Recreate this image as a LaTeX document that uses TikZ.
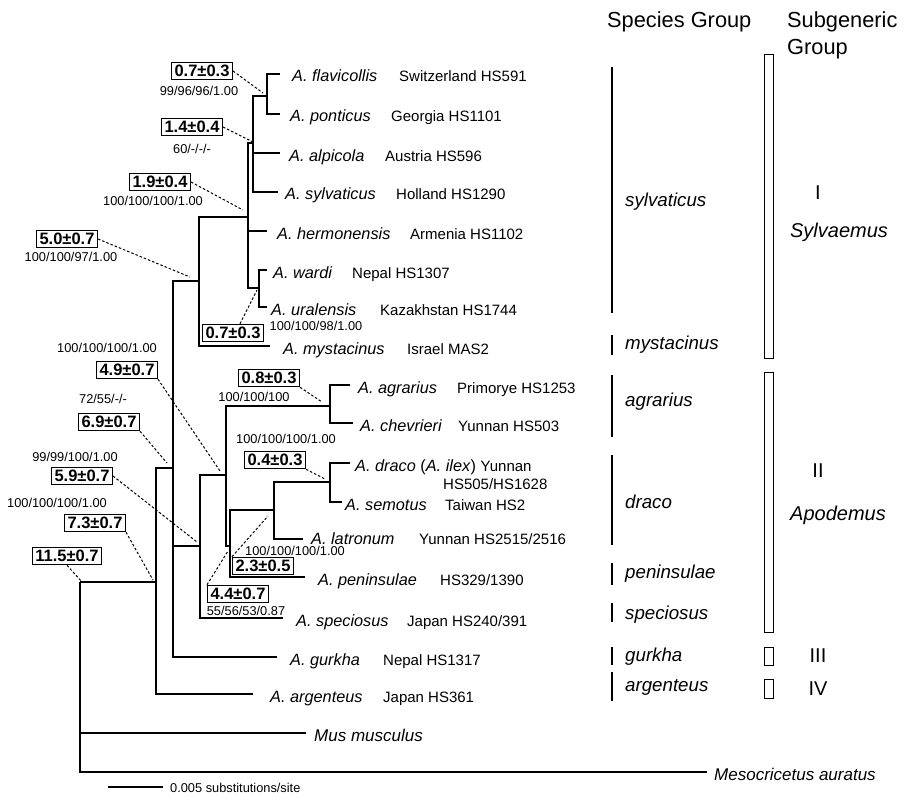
\documentclass[tikz,border=0pt]{standalone}
\usepackage{fontspec}
\setmainfont{Liberation Sans}
\begin{document}
\begin{tikzpicture}[x=1pt,y=-1pt,
  br/.style={line width=1.4pt, line join=miter},
  sp/.style={anchor=base west, inner sep=0pt, font=\fontsize{16.3}{18}\selectfont\itshape},
  loc/.style={anchor=base west, inner sep=0pt, font=\fontsize{15}{17}\selectfont},
  sup/.style={inner sep=0pt, font=\fontsize{12.8}{14}\selectfont},
  val/.style={draw, line width=1.1pt, inner xsep=3pt, inner ysep=2.8pt, text height=11.8pt, text depth=0pt, font=\fontsize{16.5}{18}\selectfont\bfseries},
  lead/.style={line width=1pt, dash pattern=on 2.5pt off 2pt},
  grp/.style={anchor=base west, inner sep=0pt, font=\fontsize{18.7}{20}\selectfont\itshape},
  gbar/.style={line width=2.2pt},
  sbox/.style={draw, line width=1pt},
  hdr/.style={anchor=base west, inner sep=0pt, font=\fontsize{21.8}{23}\selectfont},
  rom/.style={anchor=base, inner sep=0pt, font=\fontsize{20}{22}\selectfont},
  sub/.style={anchor=base, inner sep=0pt, font=\fontsize{20}{22}\selectfont\itshape}
]
\useasboundingbox[fill=white] (0,0) rectangle (905,797);

% internal nodes
\coordinate (R) at (80,582);
\coordinate (n73) at (156,582);
\coordinate (n69) at (173,468);
\coordinate (n50) at (199,281);
\coordinate (n19) at (248,217);
\coordinate (n14) at (253,143);
\coordinate (n07) at (267,96);
\coordinate (nwu) at (259,288);
\coordinate (n59) at (200,546);
\coordinate (n49) at (226,475);
\coordinate (n08) at (330,406);
\coordinate (n44) at (230,546);
\coordinate (n23) at (274,510);
\coordinate (n04) at (330,482);
% tips
\coordinate (tflav) at (280,74);
\coordinate (tpont) at (280,114);
\coordinate (talp) at (280,153);
\coordinate (tsylv) at (278,192);
\coordinate (therm) at (267,231);
\coordinate (tward) at (267,270);
\coordinate (tural) at (267,307);
\coordinate (tmyst) at (270,346);
\coordinate (tagr) at (350,385);
\coordinate (tchev) at (353,423);
\coordinate (tdraco) at (350,463);
\coordinate (tsem) at (342,502);
\coordinate (tlat) at (303,539);
\coordinate (tpen) at (305,577);
\coordinate (tspec) at (283,618);
\coordinate (tgur) at (277,657);
\coordinate (targ) at (253,694);
\coordinate (tmus) at (306,733);
\coordinate (tmeso) at (707,772);

% branches
\draw[br] (R) -- (n73);
\draw[br] (R) |- (tmus);
\draw[br] (R) |- (tmeso);
\draw[br] (n73) |- (n69);
\draw[br] (n73) |- (targ);
\draw[br] (n69) |- (n50);
\draw[br] (n69) |- (n59);
\draw[br] (n69) |- (tgur);
\draw[br] (n50) |- (n19);
\draw[br] (n50) |- (tmyst);
\draw[br] (n19) |- (n14);
\draw[br] (n19) |- (therm);
\draw[br] (n19) |- (nwu);
\draw[br] (n14) |- (n07);
\draw[br] (n14) |- (talp);
\draw[br] (n14) |- (tsylv);
\draw[br] (n07) |- (tflav);
\draw[br] (n07) |- (tpont);
\draw[br] (nwu) |- (tward);
\draw[br] (nwu) |- (tural);
\draw[br] (n59) |- (n49);
\draw[br] (n59) |- (tspec);
\draw[br] (n49) |- (n08);
\draw[br] (n49) |- (n44);
\draw[br] (n08) |- (tagr);
\draw[br] (n08) |- (tchev);
\draw[br] (n44) |- (n23);
\draw[br] (n44) |- (tpen);
\draw[br] (n23) |- (n04);
\draw[br] (n23) |- (tlat);
\draw[br] (n04) |- (tdraco);
\draw[br] (n04) |- (tsem);

% tip labels
\node[sp] (lflav) at (292,82) {A. flavicollis};
\node[loc] (cflav) at (399,82) {Switzerland HS591};
\node[sp] (lpont) at (290,122) {A. ponticus};
\node[loc] (cpont) at (391,122) {Georgia HS1101};
\node[sp] (lalp) at (289,161) {A. alpicola};
\node[loc] (calp) at (385,161) {Austria HS596};
\node[sp] (lsylv) at (285,200) {A. sylvaticus};
\node[loc] (csylv) at (396,200) {Holland HS1290};
\node[sp] (lherm) at (277,239) {A. hermonensis};
\node[loc] (cherm) at (410,239) {Armenia HS1102};
\node[sp] (lward) at (273,278) {A. wardi};
\node[loc] (cward) at (352,278) {Nepal HS1307};
\node[sp] (lural) at (271,315) {A. uralensis};
\node[loc] (cural) at (380,315) {Kazakhstan HS1744};
\node[sp] (lmyst) at (283,354) {A. mystacinus};
\node[loc] (cmyst) at (407,354) {Israel MAS2};
\node[sp] (lagr) at (358,393) {A. agrarius};
\node[loc] (cagr) at (457,393) {Primorye HS1253};
\node[sp] (lchev) at (360,431) {A. chevrieri};
\node[loc] (cchev) at (458,431) {Yunnan HS503};
\node[sp] (ldraco) at (355,471) {A. draco \upshape(\itshape A. ilex\/\upshape) \fontsize{15}{17}\selectfont Yunnan};
\node[loc] (cdraco) at (443,489) {HS505/HS1628};
\node[sp] (lsem) at (345,510) {A. semotus};
\node[loc] (csem) at (445,510) {Taiwan HS2};
\node[sp] (llat) at (311,544) {A. latronum};
\node[loc] (clat) at (419,544) {Yunnan HS2515/2516};
\node[sp] (lpen) at (318,585) {A. peninsulae};
\node[loc] (cpen) at (440,585) {HS329/1390};
\node[sp] (lspec) at (296,626) {A. speciosus};
\node[loc] (cspec) at (407,626) {Japan HS240/391};
\node[sp] (lgur) at (290,665) {A. gurkha};
\node[loc] (cgur) at (383,665) {Nepal HS1317};
\node[sp] (larg) at (270,702) {A. argenteus};
\node[loc] (carg) at (383,702) {Japan HS361};
\node[sp, font=\fontsize{17}{19}\selectfont\itshape] (lmus) at (314,741) {Mus musculus};
\node[sp, font=\fontsize{17}{19}\selectfont\itshape] (lmeso) at (714,780) {Mesocricetus auratus};

% node values and supports
\node[val] (b07a) at (202,71) {0.7±0.3};
\node[sup] (s07a) at (199,91) {99/96/96/1.00};
\coordinate (e07a) at (263,93);
\draw[lead] (b07a.east) -- (e07a);

\node[val] (b14) at (192,127) {1.4±0.4};
\node[sup] (s14) at (192,149) {60/-/-/-};
\coordinate (e14) at (253,142);
\draw[lead] (b14.east) -- (e14);

\node[val] (b19) at (160,182) {1.9±0.4};
\node[sup] (s19) at (153,201) {100/100/100/1.00};
\coordinate (e19) at (243,210);
\draw[lead] (b19.east) -- (e19);

\node[val] (b50) at (67,239) {5.0±0.7};
\node[sup] (s50) at (71,257) {100/100/97/1.00};
\coordinate (e50) at (190,277);
\draw[lead] (b50.east) -- (e50);

\node[val] (b07b) at (233,333) {0.7±0.3};
\node[sup] (s07b) at (316,326) {100/100/98/1.00};
\coordinate (e07b) at (257,290);
\draw[lead] ([xshift=7pt]b07b.north) -- (e07b);

\node[val] (b49) at (127,370) {4.9±0.7};
\node[sup] (s49) at (107,348) {100/100/100/1.00};
\coordinate (e49) at (220,471);
\draw[lead] (b49.south east) -- (e49);

\node[val] (b69) at (109,422) {6.9±0.7};
\node[sup] (s69) at (103,399) {72/55/-/-};
\coordinate (e69) at (167,463);
\draw[lead] (b69.south east) -- (e69);

\node[val] (b59) at (82,476) {5.9±0.7};
\node[sup] (s59) at (75,457) {99/99/100/1.00};
\coordinate (e59) at (197,542);
\draw[lead] (b59.east) -- (e59);

\node[val] (b73) at (95,523) {7.3±0.7};
\node[sup] (s73) at (57,503) {100/100/100/1.00};
\coordinate (e73) at (153,580);
\draw[lead] (b73.south east) -- (e73);

\node[val] (b115) at (67,556) {11.5±0.7};
\coordinate (e115) at (82,582);
\draw[lead] (b115.south) -- (e115);

\node[val] (b08) at (269,378) {0.8±0.3};
\node[sup] (s08) at (254,397) {100/100/100};
\coordinate (e08) at (322,402);
\draw[lead] (b08.south east) -- (e08);

\node[val] (b04) at (275,460) {0.4±0.3};
\node[sup] (s04) at (286,439) {100/100/100/1.00};
\coordinate (e04) at (325,479);
\draw[lead] (b04.south east) -- (e04);

\node[val] (b23) at (263,566) {2.3±0.5};
\node[sup] (s23) at (295,551) {100/100/100/1.00};
\coordinate (e23) at (268,516);
\draw[lead] (b23.north west) -- (e23);

\node[val] (b44) at (238,594) {4.4±0.7};
\node[sup] (s44) at (246,611) {55/56/53/0.87};
\coordinate (e44) at (228,551);
\draw[lead] (b44.north west) -- (e44);

% scale bar
\coordinate (sbl) at (108,787);
\coordinate (sbr) at (163,787);
\draw[br] (sbl) -- (sbr);
\node[sup, anchor=west] (sbt) at (170,788) {0.005 substitutions/site};

% headers
\node[hdr] (hsp) at (607,27.5) {Species Group};
\node[hdr] (hsg1) at (787,27.5) {Subgeneric};
\node[hdr] (hsg2) at (787,55) {Group};

% species group bars
\draw[gbar] (612,67) -- (612,313);
\draw[gbar] (612,335) -- (612,355);
\draw[gbar] (612,375) -- (612,437);
\draw[gbar] (612,455) -- (612,545);
\draw[gbar] (612,563) -- (612,585);
\draw[gbar] (612,603) -- (612,622);
\draw[gbar] (612,647) -- (612,665);
\draw[gbar] (612,672) -- (612,701);
\node[grp] (gsyl) at (625,206.5) {sylvaticus};
\node[grp] (gmys) at (625,349.5) {mystacinus};
\node[grp] (gagr) at (625,406.5) {agrarius};
\node[grp] (gdra) at (625,508.5) {draco};
\node[grp] (gpen) at (625,578.5) {peninsulae};
\node[grp] (gspe) at (625,619.5) {speciosus};
\node[grp] (ggur) at (625,661.5) {gurkha};
\node[grp] (garg) at (625,691) {argenteus};

% subgeneric boxes
\draw[sbox] (764,55) rectangle (773,358);
\draw[sbox] (764,372) rectangle (773,632);
\draw[sbox] (764,647) rectangle (773,665);
\draw[sbox] (764,679) rectangle (773,698);
\node[rom] (r1) at (818,199) {I};
\node[sub] (sylv) at (839,237) {Sylvaemus};
\node[rom] (r2) at (818,477) {II};
\node[sub] (apod) at (838,520) {Apodemus};
\node[rom] (r3) at (818,662) {III};
\node[rom] (r4) at (818,695) {IV};
\end{tikzpicture}
\end{document}
